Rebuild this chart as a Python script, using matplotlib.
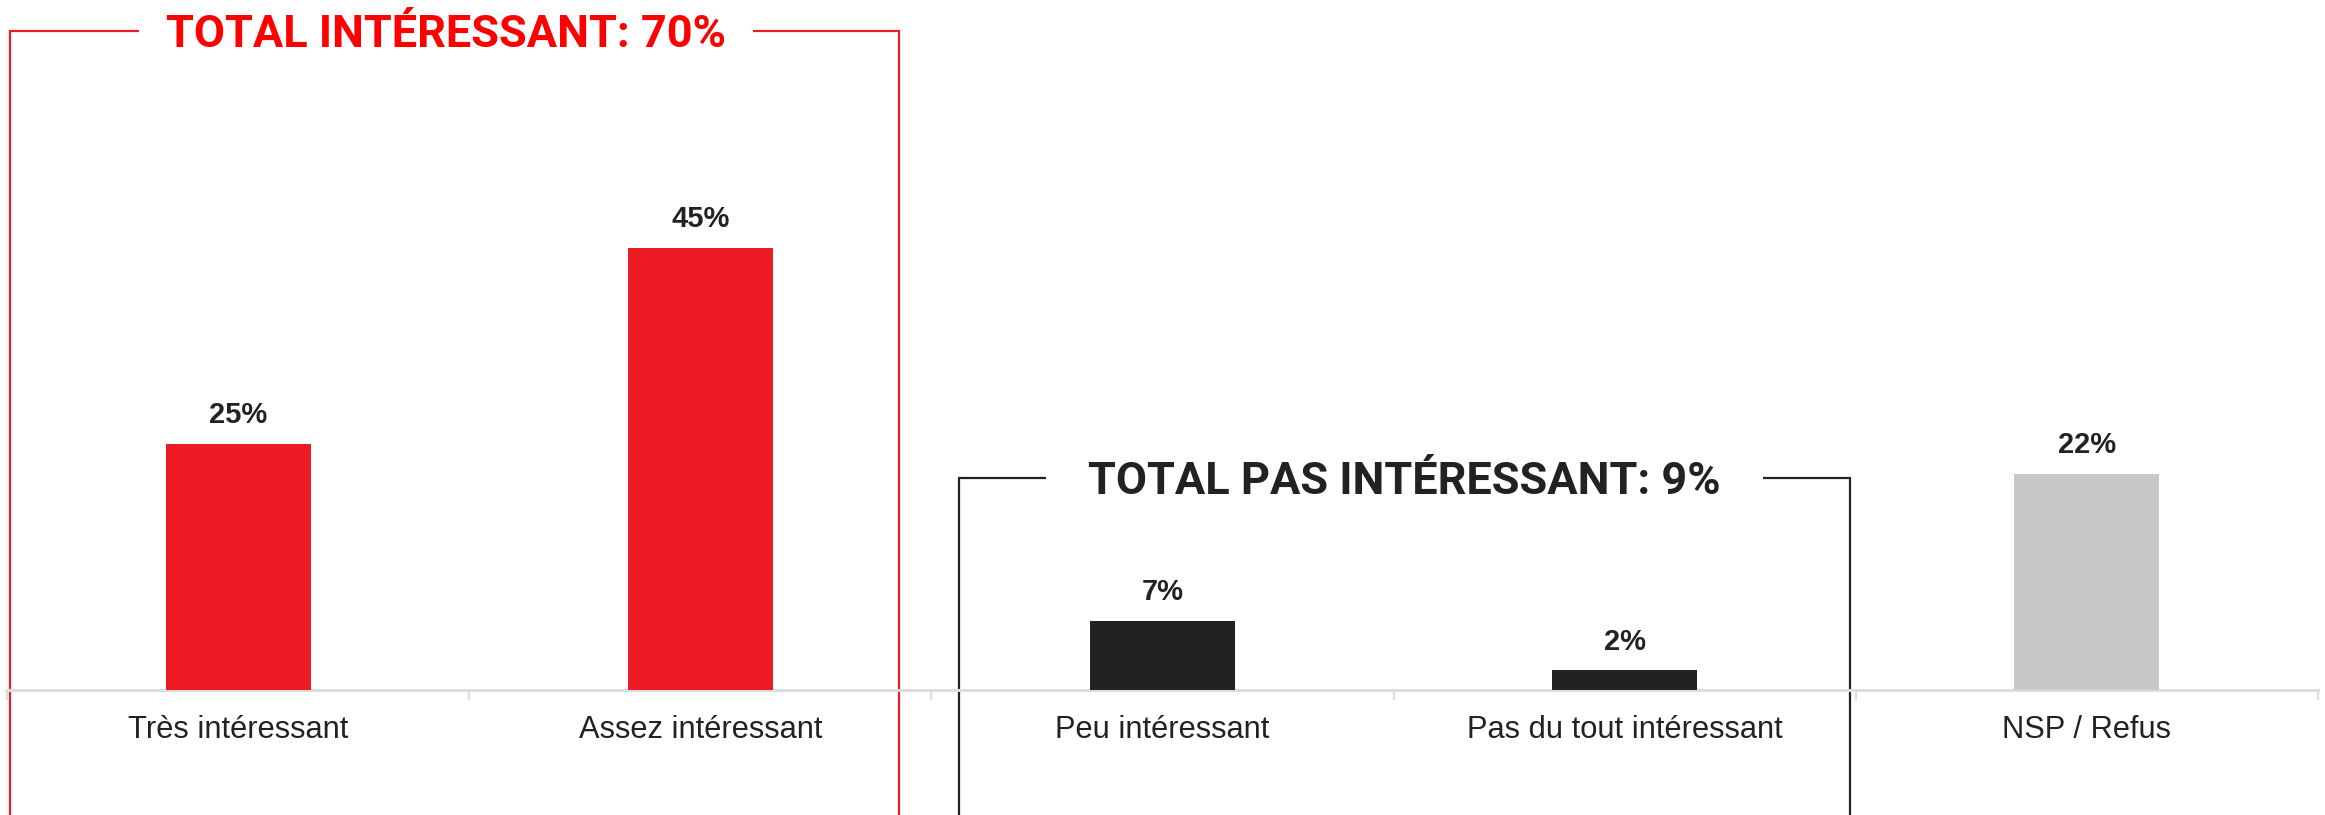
import matplotlib
matplotlib.use("Agg")
import matplotlib.pyplot as plt
import numpy as np

# données
categories = ["Très intéressant", "Assez intéressant", "Peu intéressant",
              "Pas du tout intéressant", "NSP / Refus"]
values = [25, 45, 7, 2, 22]
bar_colors = ["#ED1C24", "#ED1C24", "#222222", "#222222", "#C8C8C8"]
value_labels = ["25%", "45%", "7%", "2%", "22%"]

group_titles = ["TOTAL INTÉRESSANT: 70%", "TOTAL PAS INTÉRESSANT: 9%"]
group_members = [(0, 1), (2, 3)]
group_colors = ["#FF0000", "#222222"]
group_line_colors = ["#ED1C24", "#222222"]

plt.rcParams['font.family'] = ['Liberation Sans', 'DejaVu Sans']

W, H, DPI = 2325, 815, 100
fig = plt.figure(figsize=(W / DPI, H / DPI), dpi=DPI)
ax = fig.add_axes([7 / W, 125 / H, 2311 / W, 690 / H])

x = np.arange(len(categories))
ax.bar(x, values, width=0.314, color=bar_colors, zorder=3)
ax.set_xlim(-0.5, len(categories) - 0.5)
ax.set_ylim(0, 70.2)

for xi, v, lab in zip(x, values, value_labels):
    ax.annotate(lab, (xi, v), xytext=(0, 15), textcoords="offset points",
                ha="center", va="baseline", fontsize=21, fontweight="bold",
                color="#222222")

# axe
for s in ["top", "right", "left"]:
    ax.spines[s].set_visible(False)
ax.spines["bottom"].set_color("#DDDDDD")
ax.spines["bottom"].set_linewidth(2.2)
ax.set_yticks([])
ax.set_xticks(x)
ax.set_xticklabels(categories, fontsize=22.2, color="#222222")
ax.tick_params(axis="x", which="major", length=0, pad=18)
ax.set_xticks(np.arange(-0.5, len(categories)), minor=True)
ax.tick_params(axis="x", which="minor", length=7.2, width=1.5, color="#DDDDDD")

# accolades des totaux
px = 690 / 70.2  # pixels par point de %
bottom = -125 / px
# (décalage gauche, décalage droit, hauteur du trait, marge du titre, décalage x du titre en pt)
offsets = [(-0.4935, 0.4307, 67.0, 0.6, -6.5), (-0.44, 0.487, 21.6, 0.93, 0)]
for (a, b), title, tc, lc, (lo, ro, top, pad, dx) in zip(
        group_members, group_titles, group_colors, group_line_colors, offsets):
    xl, xr = a + lo, b + ro
    ax.plot([xl, xl, xr, xr], [bottom, top, top, bottom], color=lc, lw=1.6,
            clip_on=False, zorder=2, solid_joinstyle="miter")
    ax.annotate(title, ((xl + xr) / 2, top), xytext=(dx, -11.5),
                textcoords="offset points", ha="center", va="baseline",
                fontsize=32.5, fontweight="bold", color=tc,
                family=["Roboto", "DejaVu Sans"], zorder=4,
                bbox=dict(boxstyle=f"square,pad={pad}", fc="white", ec="none"))

fig.savefig("out.png", dpi=DPI)
